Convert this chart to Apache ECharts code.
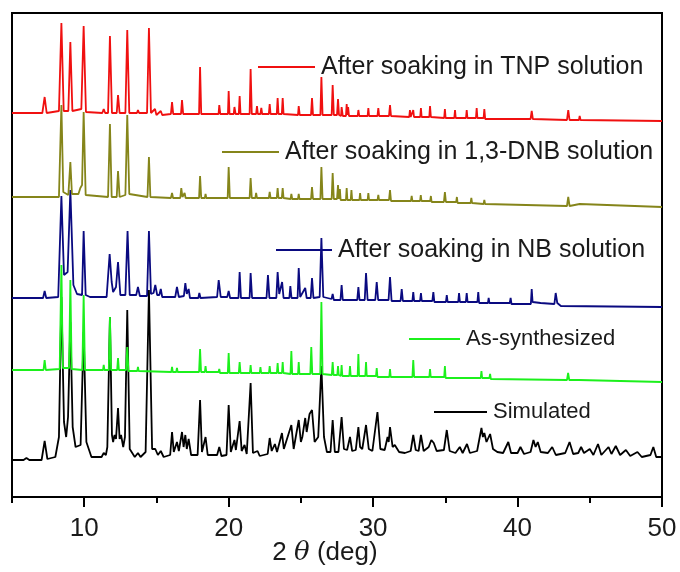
<!DOCTYPE html>
<html><head><meta charset="utf-8">
<script src="https://cdn.jsdelivr.net/npm/echarts@6/dist/echarts.min.js"></script>
<style>html,body{margin:0;padding:0;background:#fff}#c{width:680px;height:572px}</style>
</head><body><div id="c"></div>
<script>
// x tick labels
const majorTicks = [10, 20, 30, 40, 50];
const minorTicks = [5, 15, 25, 35, 45];
const seriesNames = ['Simulated', 'As-synthesized', 'After soaking in NB solution', 'After soaking in 1,3-DNB solution', 'After soaking in TNP solution'];

// traces: [2theta, offset intensity]
const tnpData = [[5,384],[7.1,384],[7.26,400],[7.4,384],[8.25,386],[8.42,474],[8.58,386],[8.9,386],[9.04,455],[9.18,386],[9.8,388],[9.96,471],[10.12,385],[11.25,384],[11.35,388],[11.45,384],[11.65,384],[11.78,461],[11.92,384],[12.25,384],[12.34,402],[12.45,384],[12.85,384],[12.98,467],[13.12,384],[13.65,384],[13.72,387],[13.8,384],[14.35,384],[14.48,469],[14.62,384],[14.9,388],[15.0,382],[15.3,386],[15.4,382],[16.0,383],[16.08,395],[16.16,383],[16.7,383],[16.77,397],[16.85,383],[17.95,383],[18.02,430],[18.1,383],[19.3,383],[19.35,392],[19.42,383],[19.95,383],[20.0,406],[20.06,383],[20.35,383],[20.4,390],[20.48,383],[20.7,383],[20.76,401],[20.82,383],[21.45,383],[21.52,428],[21.6,383],[21.9,383],[21.96,391],[22.02,383],[22.2,383],[22.26,389],[22.32,383],[22.78,383],[22.84,393],[22.9,383],[23.33,383],[23.39,399],[23.45,383],[23.68,383],[23.74,399],[23.8,383],[24.8,382],[24.85,391],[24.92,382],[25.7,382],[25.77,399],[25.84,382],[26.35,382],[26.42,420],[26.5,382],[27.13,382],[27.2,412],[27.28,382],[27.5,382],[27.57,398],[27.64,382],[27.78,381],[27.82,390],[27.9,381],[28.12,381],[28.17,393],[28.22,382],[28.27,390],[28.33,381],[28.93,381],[28.98,387],[29.04,381],[29.62,381],[29.67,389],[29.72,381],[30.3,381],[30.36,389],[30.42,381],[31.1,381],[31.17,392],[31.24,381],[32.5,380],[32.55,387],[32.6,380],[32.73,380],[32.78,387],[32.83,380],[33.26,380],[33.31,389],[33.36,380],[33.89,380],[33.94,391],[34.0,380],[34.92,379],[34.97,388],[35.02,379],[35.62,379],[35.67,387],[35.72,379],[36.43,379],[36.48,387],[36.53,379],[37.12,379],[37.17,389],[37.22,379],[37.65,379],[37.7,388],[37.76,378],[40.9,378],[40.98,386],[41.06,378],[43.42,377],[43.51,387],[43.6,377],[44.25,377],[44.3,381],[44.36,377],[50,376]];

const dnbData = [[5,300],[8.25,300],[8.42,392],[8.55,305],[8.9,302],[9.04,335],[9.15,303],[9.6,303],[9.73,309],[9.85,312],[9.96,385],[10.1,302],[11.65,300],[11.78,373],[11.9,300],[12.25,300],[12.34,326],[12.45,300],[12.85,302],[12.98,382],[13.12,303],[14.38,300],[14.48,340],[14.58,300],[16.0,299],[16.08,304],[16.15,299],[16.65,299],[16.72,309],[16.8,300],[16.95,304],[17.02,299],[17.95,299],[18.02,321],[18.1,299],[18.35,299],[18.4,303],[18.45,299],[19.93,299],[20.0,330],[20.08,299],[21.45,299],[21.52,319],[21.6,299],[21.85,299],[21.9,304],[21.96,299],[22.78,299],[22.84,305],[22.9,299],[23.33,299],[23.39,309],[23.45,299],[23.68,299],[23.74,309],[23.8,299],[24.29,298],[24.34,303],[24.4,298],[24.8,298],[24.85,303],[24.9,298],[25.7,298],[25.77,310],[25.84,298],[26.35,298],[26.42,330],[26.5,298],[27.13,298],[27.2,324],[27.28,298],[27.5,298],[27.57,312],[27.63,298],[27.66,298],[27.7,308],[27.75,297],[28.12,297],[28.17,309],[28.22,297],[28.45,297],[28.5,307],[28.55,297],[29.05,297],[29.1,304],[29.15,297],[29.62,297],[29.67,304],[29.72,297],[30.31,297],[30.36,302],[30.41,297],[31.1,297],[31.17,307],[31.24,296],[32.62,296],[32.67,301],[32.72,296],[33.25,296],[33.3,302],[33.35,296],[33.95,296],[34.0,301],[34.05,295],[34.9,295],[34.97,305],[35.04,295],[35.75,295],[35.8,300],[35.85,294],[36.75,294],[36.8,299],[36.85,294],[37.65,293],[37.7,297],[37.75,293],[43.42,291],[43.51,300],[43.6,291],[44.3,293],[50,290]];

const nbData = [[5,199],[7.15,199],[7.26,206],[7.37,199],[8.2,200],[8.42,301],[8.6,222],[8.85,225],[9.04,307],[9.25,212],[9.5,203],[9.85,202],[9.96,266],[10.1,202],[10.4,200],[11.55,200],[11.76,243],[11.9,215],[12.0,205],[12.2,210],[12.34,235],[12.5,202],[12.85,202],[13.0,266],[13.15,202],[13.6,202],[13.72,210],[13.85,201],[14.35,201],[14.48,266],[14.62,203],[14.8,204],[14.92,212],[15.05,202],[15.2,202],[15.3,208],[15.4,200],[16.3,200],[16.42,210],[16.55,200],[16.9,201],[17.0,214],[17.1,203],[17.23,208],[17.32,199],[17.9,199],[17.97,204],[18.05,199],[19.2,200],[19.31,217],[19.45,200],[19.9,200],[20.0,206],[20.1,199],[20.68,199],[20.76,225],[20.85,199],[21.45,199],[21.52,224],[21.62,199],[22.62,199],[22.72,222],[22.82,199],[23.3,199],[23.39,225],[23.5,203],[23.7,215],[23.8,199],[24.2,199],[24.27,211],[24.35,199],[24.77,199],[24.85,229],[24.95,200],[25.3,209],[25.4,199],[25.68,199],[25.77,219],[25.87,199],[26.3,200],[26.42,259],[26.55,200],[27.12,198],[27.2,203],[27.28,197],[27.74,197],[27.82,212],[27.9,197],[28.9,197],[28.98,210],[29.06,197],[29.42,197],[29.51,224],[29.62,197],[30.15,197],[30.25,215],[30.35,197],[31.07,197],[31.17,220],[31.28,196],[31.9,196],[31.98,208],[32.06,196],[32.72,196],[32.78,205],[32.84,196],[33.25,196],[33.31,204],[33.37,196],[34.1,196],[34.17,205],[34.24,195],[35.04,195],[35.1,202],[35.16,195],[35.89,195],[35.95,204],[36.01,195],[36.42,195],[36.48,204],[36.54,195],[37.22,195],[37.28,205],[37.34,194],[37.95,194],[38.0,199],[38.05,194],[39.46,194],[39.52,199],[39.58,193],[40.92,193],[40.98,208],[41.04,195],[41.6,194],[41.7,193],[42.55,193],[42.64,204],[42.75,194],[43.0,191],[50,190]];

const asSynData = [[5,127],[7.18,127],[7.26,137],[7.34,127],[8.3,128],[8.42,232],[8.52,129],[8.95,129],[9.04,217],[9.13,128],[9.87,127],[9.96,202],[10.05,127],[11.3,127],[11.35,132],[11.4,127],[11.7,127],[11.78,180],[11.86,127],[12.28,127],[12.34,139],[12.4,127],[12.9,127],[12.98,150],[13.06,126],[13.67,126],[13.72,130],[13.77,126],[16.03,125],[16.08,130],[16.13,125],[16.37,125],[16.42,129],[16.47,125],[17.95,125],[18.02,148],[18.09,125],[18.35,125],[18.4,131],[18.45,125],[19.3,125],[19.35,128],[19.4,124],[19.94,124],[20.0,144],[20.06,124],[20.7,124],[20.76,135],[20.82,124],[21.47,124],[21.52,132],[21.57,124],[22.15,124],[22.2,130],[22.25,124],[22.79,124],[22.84,131],[22.89,124],[23.34,124],[23.39,134],[23.44,124],[23.69,124],[23.74,135],[23.79,124],[24.28,123],[24.34,146],[24.4,123],[24.8,123],[24.85,135],[24.9,123],[25.65,123],[25.72,150],[25.79,123],[26.34,123],[26.42,195],[26.5,123],[27.14,122],[27.2,135],[27.26,122],[27.52,122],[27.57,131],[27.62,122],[27.77,121],[27.82,132],[27.87,121],[28.35,121],[28.4,131],[28.45,121],[28.93,121],[28.98,143],[29.03,121],[29.46,121],[29.51,135],[29.56,121],[30.2,121],[30.25,129],[30.3,120],[31.12,120],[31.17,128],[31.22,120],[32.72,120],[32.78,137],[32.84,120],[33.89,120],[33.94,128],[33.99,120],[34.92,120],[34.97,131],[35.02,119],[37.45,119],[37.5,126],[37.55,119],[38.05,119],[38.1,123],[38.15,118],[43.42,117],[43.5,124],[43.58,117],[44.25,117],[44.3,119],[44.35,116],[50,115]];

const simData = [[5,37],[5.8,37],[6.0,39],[6.2,37],[7.05,37],[7.26,56],[7.45,38],[8.0,40],[8.25,60],[8.42,200],[8.6,75],[8.75,60],[8.88,80],[9.04,175],[9.2,70],[9.4,50],[9.75,52],[9.96,165],[10.15,55],[10.5,40],[11.2,40],[11.35,44],[11.5,42],[11.6,50],[11.78,180],[11.92,62],[12.0,55],[12.1,62],[12.2,58],[12.34,89],[12.45,58],[12.55,62],[12.7,50],[12.82,60],[12.98,187],[13.15,48],[13.5,40],[13.72,44],[13.9,40],[14.25,45],[14.48,207],[14.7,48],[14.92,48],[15.1,42],[15.3,46],[15.5,40],[15.95,42],[16.08,65],[16.2,45],[16.42,55],[16.55,46],[16.77,65],[16.88,50],[17.0,62],[17.1,48],[17.23,58],[17.4,42],[17.85,42],[18.02,97],[18.15,45],[18.4,60],[18.55,42],[19.2,42],[19.35,50],[19.5,41],[19.85,42],[20.0,92],[20.15,45],[20.4,57],[20.5,47],[20.76,76],[20.9,46],[21.1,52],[21.25,43],[21.52,114],[21.68,44],[22.0,46],[22.15,41],[22.7,43],[22.84,59],[22.98,46],[23.2,53],[23.35,45],[23.69,64],[23.82,48],[23.95,46],[24.34,72],[24.5,48],[24.6,50],[24.85,77],[25.0,55],[25.1,60],[25.3,79],[25.4,65],[25.6,83],[25.77,87],[25.95,55],[26.2,60],[26.42,131],[26.6,60],[26.8,45],[27.05,45],[27.2,77],[27.35,45],[27.6,45],[27.82,80],[27.98,48],[28.2,47],[28.4,60],[28.55,46],[28.8,47],[28.98,70],[29.1,50],[29.25,48],[29.51,72],[29.7,48],[29.95,46],[30.3,85],[30.5,48],[30.8,47],[31.0,60],[31.08,55],[31.17,70],[31.35,50],[31.5,52],[31.8,45],[32.2,44],[32.6,46],[32.78,62],[32.95,47],[33.15,46],[33.31,62],[33.5,46],[33.85,50],[34.03,57],[34.2,54],[34.4,46],[34.9,47],[35.1,67],[35.3,46],[35.7,44],[36.0,50],[36.2,44],[36.5,53],[36.7,44],[37.2,46],[37.5,69],[37.6,60],[37.7,64],[37.85,55],[38.1,63],[38.3,48],[38.6,45],[39.0,44],[39.36,55],[39.55,44],[40.0,44],[40.2,50],[40.45,43],[40.9,45],[41.1,57],[41.25,50],[41.4,55],[41.6,45],[42.1,44],[42.4,50],[42.65,42],[43.3,44],[43.6,55],[43.85,43],[44.2,44],[44.4,50],[44.6,44],[45.0,48],[45.25,42],[45.57,53],[45.8,42],[46.3,50],[46.5,43],[46.8,51],[47.1,42],[47.5,47],[47.8,41],[48.3,45],[48.6,40],[49.2,42],[49.4,50],[49.6,40],[50,40]];

const seriesData = [simData, asSynData, nbData, dnbData, tnpData];
const colors = ['#000000', '#1cf01c', '#0a0a80', '#85851a', '#f01010'];

const FONT = '"Liberation Sans", Arial, sans-serif';
const TXT = '#1a1a1a';

const chart = echarts.init(document.getElementById('c'), null, {renderer: 'canvas'});

// legend entries positioned like the reference
const legendPos = [
  {x1: 434, x2: 487, y: 412, fs: 22},
  {x1: 409, x2: 460, y: 339, fs: 22},
  {x1: 276, x2: 332, y: 250, fs: 25},
  {x1: 222, x2: 279, y: 152, fs: 25},
  {x1: 258, x2: 315, y: 67, fs: 25}
];
const graphics = [];
legendPos.forEach((p, i) => {
  graphics.push({type: 'line', shape: {x1: p.x1, y1: p.y, x2: p.x2, y2: p.y}, style: {stroke: colors[i], lineWidth: 2}, z: 10});
  graphics.push({type: 'text', x: p.x2 + 6, y: p.y, style: {text: seriesNames[i], fill: TXT, font: p.fs + 'px ' + FONT, verticalAlign: 'middle', align: 'left'}, z: 10});
});
graphics.push({type: 'text', x: 325, y: 553, style: {
  text: '{a|2 }{b|θ}{a| (deg)}', align: 'center', verticalAlign: 'middle',
  rich: {a: {fontSize: 26, fontFamily: FONT, fill: TXT, color: TXT}, b: {fontSize: 26, fontFamily: 'DejaVu Serif, serif', fontStyle: 'italic', fill: TXT, color: TXT}}
}, z: 10});

const option = {
  animation: false,
  grid: {left: 12, right: 18, top: 13, bottom: 75, show: true, borderColor: '#000', borderWidth: 2, backgroundColor: 'transparent'},
  xAxis: [
    {type: 'value', min: 5, max: 50, interval: 5,
      axisLine: {show: true, lineStyle: {color: '#000', width: 2}},
      axisTick: {show: true, customValues: majorTicks, length: 10, lineStyle: {color: '#000', width: 2}},
      axisLabel: {show: true, customValues: majorTicks, fontSize: 26, fontFamily: FONT, color: TXT, margin: 19},
      splitLine: {show: false}},
    {type: 'value', min: 5, max: 50, interval: 5, position: 'bottom',
      axisLine: {show: false},
      axisTick: {show: true, customValues: minorTicks, length: 6, lineStyle: {color: '#000', width: 2}},
      axisLabel: {show: false}, splitLine: {show: false}}
  ],
  yAxis: {type: 'value', min: 0, max: 484, axisLine: {show: false}, axisTick: {show: false}, axisLabel: {show: false}, splitLine: {show: false}},
  series: seriesData.map((d, i) => ({
    name: seriesNames[i], type: 'line', xAxisIndex: 0, data: d, showSymbol: false, symbol: 'none',
    lineStyle: {color: colors[i], width: 1.8}, z: 2 + i
  })),
  graphic: graphics
};
chart.setOption(option);
</script></body></html>
